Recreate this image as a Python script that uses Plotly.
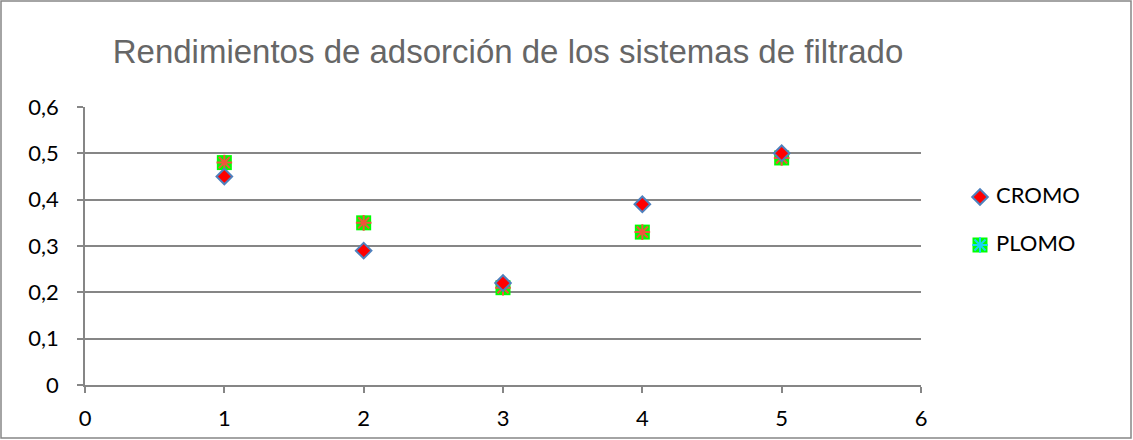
import plotly.graph_objects as go

# Filtration system number (x) and adsorption yield per metal
sistemas = [1, 2, 3, 4, 5]
cromo = [0.45, 0.29, 0.22, 0.39, 0.50]
plomo = [0.48, 0.35, 0.21, 0.33, 0.49]
y_ticks = [0, 0.1, 0.2, 0.3, 0.4, 0.5, 0.6]
x_ticks = [0, 1, 2, 3, 4, 5, 6]
series_names = ["CROMO", "PLOMO"]

W, H = 1133, 440
L, R, T, B = 85, 20, 107, 55
pw, ph = W - L - R, H - T - B
PLOT_RIGHT = 921  # right end of the data area, in pixels


def px_x(p):
    return (p - L) / pw


def px_y(p):
    return (H - B - p) / ph


TICK_FONT = dict(family="Lato, Open Sans, sans-serif", size=22, color="#000000")
diamond = dict(symbol="diamond", size=12, color="#FF0000",
               line=dict(width=2, color="#4F81BD"))
square = dict(symbol="square", size=15, color="#00FF00", line=dict(width=0))
star = dict(symbol="asterisk-open", size=13, line=dict(width=2, color="#C0504D"))

fig = go.Figure()

# PLOMO: green square with a red-brown asterisk on top
fig.add_trace(go.Scatter(x=sistemas, y=plomo, mode="markers", showlegend=False,
                         marker=square, cliponaxis=False))
fig.add_trace(go.Scatter(x=sistemas, y=plomo, mode="markers", showlegend=False,
                         marker=star, cliponaxis=False))
# CROMO: red diamond with blue outline
fig.add_trace(go.Scatter(x=sistemas, y=cromo, mode="markers", showlegend=False,
                         marker=diamond, cliponaxis=False))

# Legend drawn on a small inset axis to the right of the plot
fig.add_trace(go.Scatter(x=[0], y=[1], mode="markers", xaxis="x2", yaxis="y2",
                         showlegend=False, hoverinfo="skip", marker=diamond,
                         cliponaxis=False))
fig.add_trace(go.Scatter(x=[0], y=[0], mode="markers", xaxis="x2", yaxis="y2",
                         showlegend=False, hoverinfo="skip", marker=square,
                         cliponaxis=False))
fig.add_trace(go.Scatter(x=[0], y=[0], mode="markers", xaxis="x2", yaxis="y2",
                         showlegend=False, hoverinfo="skip", marker=star,
                         cliponaxis=False))
fig.add_trace(go.Scatter(x=[16, 16], y=[1, 0], mode="text", xaxis="x2", yaxis="y2",
                         text=series_names, textposition="middle right",
                         textfont=TICK_FONT, cliponaxis=False,
                         showlegend=False, hoverinfo="skip"))

fig.update_layout(
    width=W, height=H,
    margin=dict(l=L, r=R, t=T, b=B),
    paper_bgcolor="white", plot_bgcolor="white",
    separators=",.",
    title=dict(text="Rendimientos de adsorción de los sistemas de filtrado",
               x=508 / W, xanchor="center",
               y=1 - 51 / H, yanchor="middle",
               font=dict(family="Liberation Sans, Arial, sans-serif",
                         size=33, color="#666666")),
    xaxis=dict(domain=[0, px_x(PLOT_RIGHT)], range=[0, 6], tickvals=x_ticks,
               showgrid=False, zeroline=False, automargin=False,
               showline=True, linecolor="#868686", linewidth=1.5,
               ticks="outside", ticklen=6, tickcolor="#868686", tickwidth=1.5,
               tickfont=TICK_FONT, ticklabelstandoff=7, fixedrange=True),
    yaxis=dict(range=[0, 0.6], tickvals=y_ticks, showgrid=True,
               gridcolor="#868686", gridwidth=1.5, zeroline=False,
               automargin=False,
               showline=True, linecolor="#868686", linewidth=1.5,
               ticks="outside", ticklen=6, tickcolor="#868686", tickwidth=1.5,
               tickfont=TICK_FONT, ticklabelstandoff=14, fixedrange=True),
    xaxis2=dict(domain=[px_x(970), px_x(1010)], range=[-10, 30],
                anchor="y2", visible=False, fixedrange=True),
    yaxis2=dict(domain=[px_y(257), px_y(185)], range=[-0.25, 1.25],
                anchor="x2", visible=False, fixedrange=True),
    shapes=[dict(type="rect", xref="paper", yref="paper",
                 x0=px_x(1), x1=px_x(1131), y0=px_y(438), y1=px_y(1),
                 line=dict(color="#868686", width=1.5), layer="below")],
)

fig.write_html("out.html")
